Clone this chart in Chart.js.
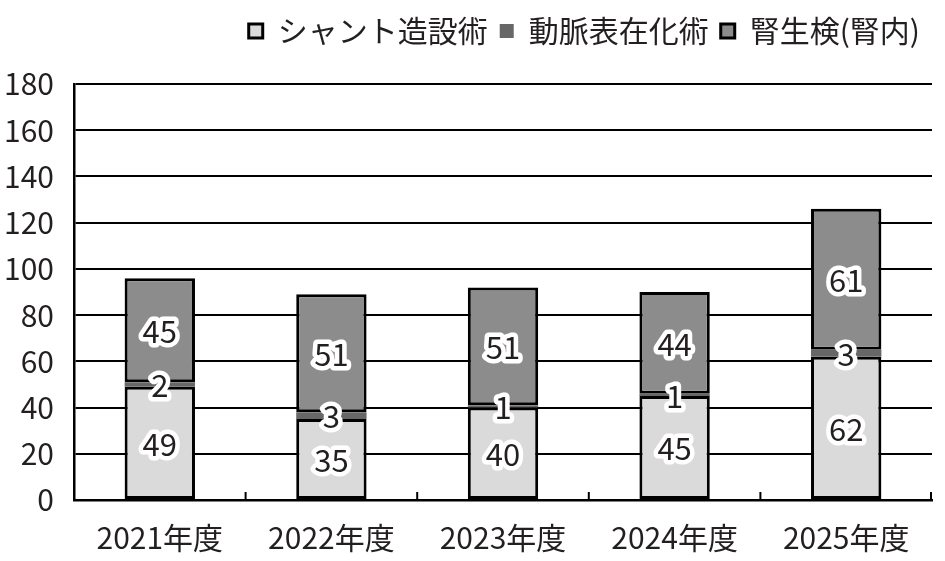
<!DOCTYPE html>
<html>
<head>
<meta charset="utf-8">
<script src="https://cdn.jsdelivr.net/npm/chart.js@4.4.1/dist/chart.umd.min.js"></script>
<style>
html,body{margin:0;padding:0;background:#fff;}
#wrap{width:945px;height:561px;}
</style>
</head>
<body>
<div id="wrap"><canvas id="c" width="945" height="561"></canvas></div>
<script>
const categories = ['2021年度','2022年度','2023年度','2024年度','2025年度'];
const seriesNames = ['シャント造設術','動脈表在化術','腎生検(腎内)'];
const shunt = [49, 35, 40, 45, 62];
const arterial = [2, 3, 1, 1, 3];
const biopsy = [45, 51, 51, 44, 61];
const yTicks = [0,20,40,60,80,100,120,140,160,180];

const FONT = "'Noto Sans CJK JP', 'Noto Sans', sans-serif";

const labelPlugin = {
  id: 'segLabels',
  beforeInit(chart) {
    const lg = chart.legend;
    if (lg) {
      const orig = lg.fit;
      lg.fit = function () { orig.call(this); this.height += 28; };
    }
  },
  afterDatasetsDraw(chart) {
    const ctx = chart.ctx;
    ctx.save();
    ctx.font = '31px ' + FONT;
    ctx.textAlign = 'center';
    ctx.textBaseline = 'middle';
    ctx.lineJoin = 'round';
    chart.data.datasets.forEach((ds, i) => {
      const meta = chart.getDatasetMeta(i);
      meta.data.forEach((bar, j) => {
        const p = bar.getProps(['x','y','base'], true);
        const cy = (p.y + p.base) / 2;
        const t = String(ds.data[j]);
        ctx.strokeStyle = '#ffffff';
        ctx.lineWidth = 9;
        ctx.strokeText(t, p.x, cy + 1);
        ctx.fillStyle = '#231f20';
        ctx.fillText(t, p.x, cy + 1);
      });
    });
    ctx.restore();
  }
};

const tickPlugin = {
  id: 'xTicks',
  afterDraw(chart) {
    const xs = chart.scales.x;
    const ca = chart.chartArea;
    const ctx = chart.ctx;
    ctx.save();
    ctx.strokeStyle = '#000';
    ctx.lineWidth = 2;
    const n = categories.length;
    for (let i = 0; i < n; i++) {
      let px;
      if (i < n - 1) px = (xs.getPixelForValue(i) + xs.getPixelForValue(i + 1)) / 2;
      else px = xs.right - 1;
      ctx.beginPath();
      ctx.moveTo(px, ca.bottom);
      ctx.lineTo(px, ca.bottom - 8);
      ctx.stroke();
    }
    ctx.restore();
  }
};

new Chart(document.getElementById('c'), {
  type: 'bar',
  data: {
    labels: categories,
    datasets: [
      { label: seriesNames[0], data: shunt, backgroundColor: '#dadada', borderColor: '#000', borderWidth: 3, borderSkipped: false },
      { label: seriesNames[1], data: arterial, backgroundColor: '#676767', borderColor: '#676767', borderWidth: 0, borderSkipped: false },
      { label: seriesNames[2], data: biopsy, backgroundColor: '#8c8c8c', borderColor: '#000', borderWidth: 3, borderSkipped: false }
    ]
  },
  options: {
    responsive: false,
    animation: false,
    devicePixelRatio: 1,
    layout: { padding: { left: 0, right: 13, top: 4, bottom: 0 } },
    datasets: { bar: { categoryPercentage: 1, barPercentage: 0.41 } },
    plugins: {
      legend: {
        position: 'top',
        align: 'end',
        labels: {
          font: { family: FONT, size: 30 },
          color: '#231f20',
          boxWidth: 14,
          boxHeight: 14,
          padding: 12
        }
      },
      tooltip: { enabled: false }
    },
    scales: {
      x: {
        stacked: true,
        grid: { display: false },
        border: { color: '#000', width: 2.5 },
        ticks: { font: { family: FONT, size: 30 }, color: '#231f20', padding: 12 },
        afterFit(s) { s.height = 61; }
      },
      y: {
        stacked: true,
        min: 0, max: 180,
        afterBuildTicks(s) { s.ticks = yTicks.map(v => ({ value: v })); },
        grid: { color: '#000', lineWidth: 2, drawTicks: false },
        border: { color: '#000', width: 2.5 },
        ticks: { font: { family: FONT, size: 30 }, color: '#231f20', padding: 20 },
        afterFit(s) { s.width = 74; }
      }
    }
  },
  plugins: [labelPlugin, tickPlugin]
});
</script>
</body>
</html>
